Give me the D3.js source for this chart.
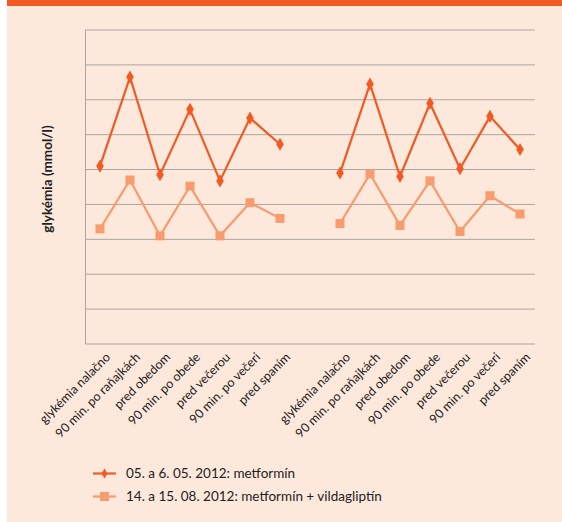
<!DOCTYPE html>
<html lang="sk">
<head>
    <meta charset="UTF-8">
    <title>Glykémia</title>
    <script src="https://d3js.org/d3.v7.min.js"></script>
    <style>
        body { margin: 0; background: #fff; }
        text { font-family: Lato, "Open Sans", sans-serif; fill: #222; }
    </style>
</head>
<body>
    <script>
        // category labels (same set for both days), a blank slot between groups
        const labels = ['glykémia nalačno', '90 min. po raňajkách', 'pred obedom', '90 min. po obede',
                        'pred večerou', '90 min. po večeri', 'pred spaním'];
        const categories = [...labels, '', ...labels];

        // glykémia values, mmol/l
        const metformin = [10.2, 15.3, 9.7, 13.45, 9.35, 12.95, 11.45,
                           null,
                           9.8, 14.9, 9.6, 13.8, 10.05, 13.05, 11.15];
        const vildagliptin = [6.6, 9.4, 6.2, 9.05, 6.2, 8.1, 7.2,
                              null,
                              6.9, 9.75, 6.8, 9.35, 6.45, 8.5, 7.45];

        const yTicks = [0, 2, 4, 6, 8, 10, 12, 14, 16, 18];
        const seriesNames = ['05. a 6. 05. 2012: metformín', '14. a 15. 08. 2012: metformín + vildagliptín'];

        const W = 562, H = 522;
        const svg = d3.select('body').append('svg').attr('width', W).attr('height', H);

        svg.append('rect').attr('x', 7).attr('y', 0).attr('width', W - 7).attr('height', H).attr('fill', '#fde9dc');
        svg.append('rect').attr('x', 7).attr('y', 0).attr('width', W - 7).attr('height', 6).attr('fill', '#f15a22');

        const x = d3.scaleBand().domain(d3.range(categories.length)).range([85, 535]);
        const y = d3.scaleLinear().domain([0, 18]).range([344, 30]);

        // gridlines
        svg.append('g').selectAll('line').data(yTicks).enter().append('line')
            .attr('x1', 85).attr('x2', 535)
            .attr('y1', d => y(d)).attr('y2', d => y(d))
            .attr('stroke', '#a9a5a3').attr('stroke-width', 1);
        svg.append('line').attr('x1', 85.5).attr('x2', 85.5).attr('y1', y(18)).attr('y2', y(0))
            .attr('stroke', '#a9a5a3');

        // category labels
        svg.append('g').selectAll('text').data(categories).enter().append('text')
            .attr('transform', (d, i) => `translate(${x(i) + x.bandwidth() / 2 + 11},358) rotate(-45)`)
            .attr('text-anchor', 'end')
            .attr('font-size', 12.5)
            .text(d => d);

        // y title
        svg.append('text')
            .attr('transform', 'translate(52,179) rotate(-90)')
            .attr('text-anchor', 'middle')
            .attr('font-size', 13.5)
            .attr('font-weight', 'bold')
            .text('glykémia (mmol/l)');

        const cx = i => x(i) + x.bandwidth() / 2;
        const line = d3.line().defined(d => d !== null).x((d, i) => cx(i)).y(d => y(d));

        const c1 = '#f15a22', c2 = '#f89b6e';

        svg.append('path').datum(vildagliptin).attr('d', line)
            .attr('fill', 'none').attr('stroke', c2).attr('stroke-width', 2.2);
        svg.append('g').selectAll('rect').data(vildagliptin.map((v, i) => [v, i]).filter(d => d[0] !== null))
            .enter().append('rect')
            .attr('x', d => cx(d[1]) - 4.5).attr('y', d => y(d[0]) - 4.5)
            .attr('width', 9).attr('height', 9).attr('fill', c2);

        svg.append('path').datum(metformin).attr('d', line)
            .attr('fill', 'none').attr('stroke', c1).attr('stroke-width', 2.2);
        const diamond = d3.symbol().type(d3.symbolDiamond).size(50);
        svg.append('g').selectAll('path').data(metformin.map((v, i) => [v, i]).filter(d => d[0] !== null))
            .enter().append('path')
            .attr('d', diamond)
            .attr('transform', d => `translate(${cx(d[1])},${y(d[0])})`)
            .attr('fill', c1);

        // legend
        const lg = svg.append('g').attr('transform', 'translate(93,0)');
        [[seriesNames[0], c1, 'd'], [seriesNames[1], c2, 's']].forEach((s, k) => {
            const ly = 473.5 + k * 23;
            lg.append('line').attr('x1', 0).attr('x2', 23).attr('y1', ly).attr('y2', ly)
                .attr('stroke', s[1]).attr('stroke-width', 2.2);
            if (s[2] === 'd') {
                lg.append('path').attr('d', d3.symbol().type(d3.symbolDiamond).size(30))
                    .attr('transform', `translate(11.5,${ly})`).attr('fill', s[1]);
            } else {
                lg.append('rect').attr('x', 7).attr('y', ly - 4.5).attr('width', 9).attr('height', 9).attr('fill', s[1]);
            }
            lg.append('text').attr('x', 33).attr('y', ly + 4.5).attr('font-size', 13.5).text(s[0]);
        });
    </script>
</body>
</html>
